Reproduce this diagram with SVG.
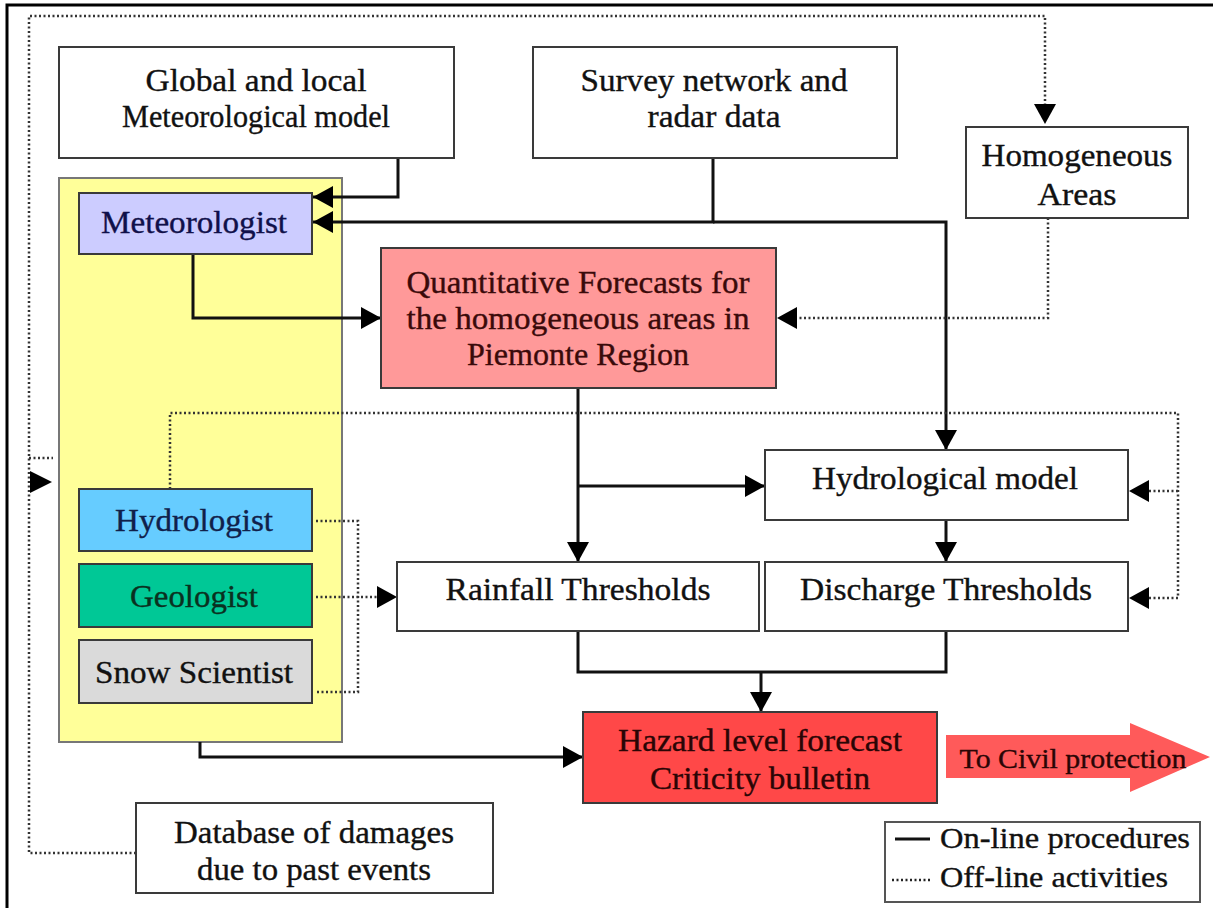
<svg xmlns="http://www.w3.org/2000/svg" width="1213" height="908" viewBox="0 0 1213 908">
<style>
.box{stroke:#3a3a3a;stroke-width:2}
.t{font-family:"Liberation Serif","Times New Roman",serif;font-size:31px;fill:#111;stroke:#111;stroke-width:0.35;text-anchor:middle}
.on{fill:none;stroke:#111;stroke-width:3}
.off{fill:none;stroke:#333;stroke-width:2.5;stroke-dasharray:2 2.5}
</style>
<defs>
<marker id="ah" markerUnits="userSpaceOnUse" markerWidth="20" markerHeight="22" refX="20" refY="11" orient="auto">
<path d="M0,0 L20,11 L0,22 z" fill="#000"/>
</marker>
</defs>
<rect width="1213" height="908" fill="#fff"/>
<path d="M7,908 V5 H1213" fill="none" stroke="#000" stroke-width="3"/>

<g id="experts-panel">
<rect x="59" y="178" width="283" height="564" fill="#ffff99" stroke="#777" stroke-width="2"/>
</g>

<g id="connectors">
<path class="on" d="M398,158 V197 H313" marker-end="url(#ah)"/>
<path class="on" d="M713,158 V222 H313" marker-end="url(#ah)"/>
<path class="on" d="M713,222 H946 V450" marker-end="url(#ah)"/>
<path class="on" d="M193,254 V318 H381" marker-end="url(#ah)"/>
<path class="on" d="M578,388 V562" marker-end="url(#ah)"/>
<path class="on" d="M578,486 H765" marker-end="url(#ah)"/>
<path class="on" d="M946,520 V562" marker-end="url(#ah)"/>
<path class="on" d="M578,631 V672 H946 V631"/>
<path class="on" d="M761,672 V712" marker-end="url(#ah)"/>
<path class="on" d="M200,742 V757 H583" marker-end="url(#ah)"/>
<path class="off" d="M136,853 H29 V16 H1045 V104"/>
<path d="M1034,104 L1056,104 L1045,124 z" fill="#000"/>
<path class="off" d="M29,458 H53"/>
<path d="M30,471 L52,482 L30,493 z" fill="#000"/>
<path class="off" d="M1048,218 V318 H797"/>
<path d="M797,307 L777,318 L797,329 z" fill="#000"/>
<path class="off" d="M170,489 V413 H1178 V598 H1149"/>
<path class="off" d="M1178,491 H1149"/>
<path d="M1149,480 L1129,491 L1149,502 z" fill="#000"/>
<path d="M1149,587 L1129,598 L1149,609 z" fill="#000"/>
<path class="off" d="M316,521 H358 V692 H316"/>
<path class="off" d="M316,597 H377"/>
<path d="M377,586 L397,597 L377,608 z" fill="#000"/>
</g>

<g id="global-model">
<rect class="box" x="59" y="47" width="395" height="111" fill="#fff"/>
<text class="t" x="256" y="91" textLength="221" lengthAdjust="spacingAndGlyphs">Global and local</text>
<text class="t" x="256" y="127" textLength="268" lengthAdjust="spacingAndGlyphs">Meteorological model</text>
</g>

<g id="survey">
<rect class="box" x="533" y="47" width="364" height="111" fill="#fff"/>
<text class="t" x="714" y="91" textLength="267" lengthAdjust="spacingAndGlyphs">Survey network and</text>
<text class="t" x="714" y="127" textLength="133" lengthAdjust="spacingAndGlyphs">radar data</text>
</g>

<g id="homogeneous">
<rect class="box" x="966" y="127" width="222" height="91" fill="#fff"/>
<text class="t" x="1077" y="166" textLength="191" lengthAdjust="spacingAndGlyphs">Homogeneous</text>
<text class="t" x="1077" y="205" textLength="79" lengthAdjust="spacingAndGlyphs">Areas</text>
</g>

<g id="meteorologist">
<rect class="box" x="79" y="193" width="233" height="61" fill="#ccccff"/>
<text class="t" x="194" y="233" style="fill:#10104a;stroke:#10104a" textLength="186" lengthAdjust="spacingAndGlyphs">Meteorologist</text>
</g>

<g id="quantitative">
<rect class="box" x="381" y="248" width="395" height="140" fill="#ff9999"/>
<text class="t" x="578" y="293" style="fill:#3a0a0a;stroke:#3a0a0a" textLength="343" lengthAdjust="spacingAndGlyphs">Quantitative Forecasts for</text>
<text class="t" x="578" y="329" style="fill:#3a0a0a;stroke:#3a0a0a" textLength="343" lengthAdjust="spacingAndGlyphs">the homogeneous areas in</text>
<text class="t" x="578" y="365" style="fill:#3a0a0a;stroke:#3a0a0a" textLength="222" lengthAdjust="spacingAndGlyphs">Piemonte Region</text>
</g>

<g id="hydrological-model">
<rect class="box" x="765" y="450" width="363" height="70" fill="#fff"/>
<text class="t" x="945" y="489" textLength="266" lengthAdjust="spacingAndGlyphs">Hydrological model</text>
</g>

<g id="rainfall">
<rect class="box" x="397" y="562" width="362" height="69" fill="#fff"/>
<text class="t" x="578" y="600" textLength="265" lengthAdjust="spacingAndGlyphs">Rainfall Thresholds</text>
</g>

<g id="discharge">
<rect class="box" x="765" y="562" width="363" height="69" fill="#fff"/>
<text class="t" x="946" y="600" textLength="292" lengthAdjust="spacingAndGlyphs">Discharge Thresholds</text>
</g>

<g id="hydrologist">
<rect class="box" x="79" y="489" width="233" height="62" fill="#66ccff"/>
<text class="t" x="194" y="531" style="fill:#10204a;stroke:#10204a" textLength="158" lengthAdjust="spacingAndGlyphs">Hydrologist</text>
</g>

<g id="geologist">
<rect class="box" x="79" y="564" width="233" height="63" fill="#00c896"/>
<text class="t" x="194" y="607" style="fill:#0a3020;stroke:#0a3020" textLength="128" lengthAdjust="spacingAndGlyphs">Geologist</text>
</g>

<g id="snow-scientist">
<rect class="box" x="79" y="640" width="233" height="63" fill="#dadada"/>
<text class="t" x="194" y="683" textLength="198" lengthAdjust="spacingAndGlyphs">Snow Scientist</text>
</g>

<g id="hazard">
<rect class="box" x="583" y="712" width="354" height="91" fill="#ff4848"/>
<text class="t" x="760" y="751" style="fill:#2a0505;stroke:#2a0505" textLength="284" lengthAdjust="spacingAndGlyphs">Hazard level forecast</text>
<text class="t" x="760" y="789" style="fill:#2a0505;stroke:#2a0505" textLength="220" lengthAdjust="spacingAndGlyphs">Criticity bulletin</text>
</g>

<g id="civil-protection">
<path d="M946,735 H1130 V723 L1210,757 L1130,792 V778 H946 z" fill="#ff5a5a"/>
<text class="t" x="1073" y="768" style="fill:#2a0505;stroke:#2a0505;font-size:28px" textLength="227" lengthAdjust="spacingAndGlyphs">To Civil protection</text>
</g>

<g id="database">
<rect class="box" x="136" y="803" width="357" height="90" fill="#fff"/>
<text class="t" x="314" y="843" textLength="280" lengthAdjust="spacingAndGlyphs">Database of damages</text>
<text class="t" x="314" y="880" textLength="234" lengthAdjust="spacingAndGlyphs">due to past events</text>
</g>

<g id="legend">
<rect x="885" y="822" width="315" height="80" fill="#fff" stroke="#555" stroke-width="2"/>
<path d="M895,839 H930" stroke="#111" stroke-width="3"/>
<path d="M892,880 H930" stroke="#222" stroke-width="2.5" stroke-dasharray="2 2.5"/>
<text class="t" x="1065" y="848" style="font-size:29px" textLength="250" lengthAdjust="spacingAndGlyphs">On-line procedures</text>
<text class="t" x="1054" y="887" style="font-size:29px" textLength="228" lengthAdjust="spacingAndGlyphs">Off-line activities</text>
</g>
</svg>
